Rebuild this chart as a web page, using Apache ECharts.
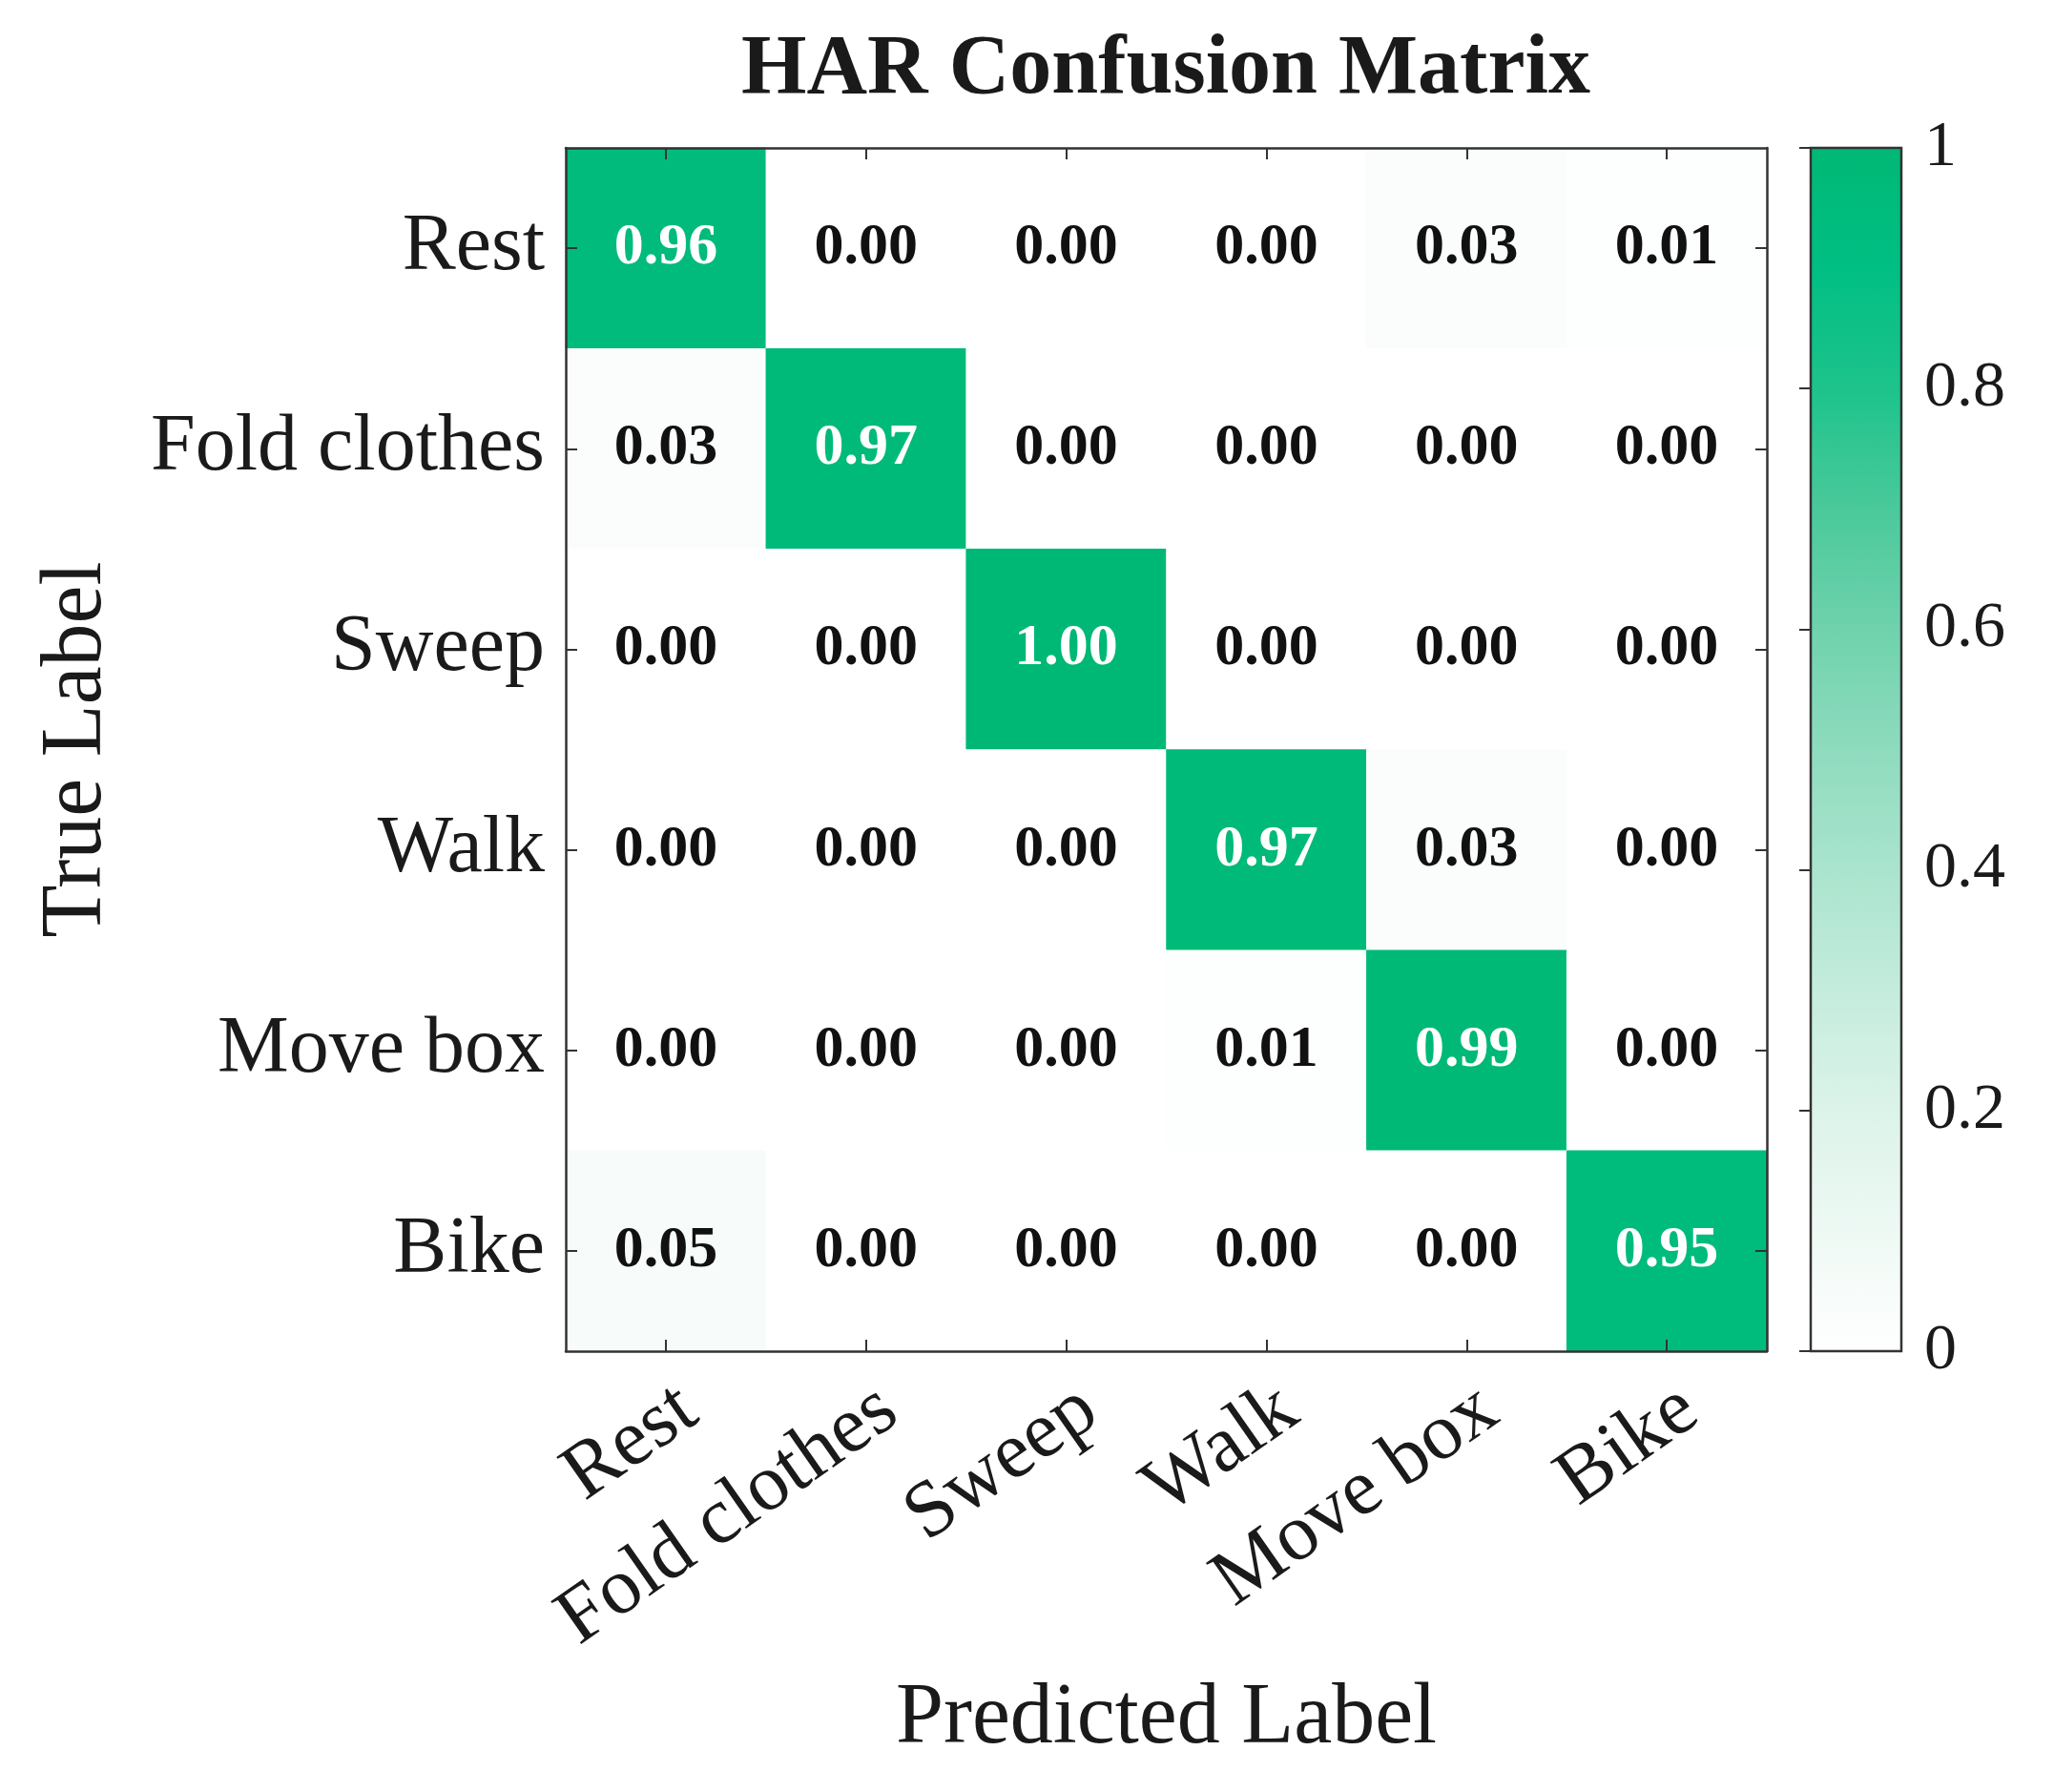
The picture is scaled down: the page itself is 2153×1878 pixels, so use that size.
<!DOCTYPE html>
<html>
<head>
<meta charset="utf-8">
<script src="https://cdn.jsdelivr.net/npm/echarts@6.0.0/dist/echarts.min.js"></script>
<style>
  html, body { margin: 0; padding: 0; background: #fff; }
  #main { width: 2153px; height: 1878px; }
</style>
</head>
<body>
<div id="main"></div>
<script>
// class names, same order on both axes
const classes = ['Rest', 'Fold clothes', 'Sweep', 'Walk', 'Move box', 'Bike'];

// one row per true label, columns = predicted label
const restRow  = [0.96, 0.00, 0.00, 0.00, 0.03, 0.01];
const foldRow  = [0.03, 0.97, 0.00, 0.00, 0.00, 0.00];
const sweepRow = [0.00, 0.00, 1.00, 0.00, 0.00, 0.00];
const walkRow  = [0.00, 0.00, 0.00, 0.97, 0.03, 0.00];
const moveRow  = [0.00, 0.00, 0.00, 0.01, 0.99, 0.00];
const bikeRow  = [0.05, 0.00, 0.00, 0.00, 0.00, 0.95];

const colorbarTicks = [0, 0.2, 0.4, 0.6, 0.8, 1];

const rows = [restRow, foldRow, sweepRow, walkRow, moveRow, bikeRow];
let cells = [];
rows.forEach(function (row, y) {
  row.forEach(function (v, x) {
    cells.push([x, y, v]);
  });
});

const FONT = 'Liberation Serif';
const INK = '#1a1a1a';

// plot box
const L = 593, T = 155, W = 1259, H = 1261;
// colour bar box
const CB_L = 1898, CB_W = 95;

let chart = echarts.init(document.getElementById('main'), null, { renderer: 'canvas' });

let catAxis = {
  type: 'category',
  data: classes,
  z: 5,
  axisLine: { show: true, lineStyle: { color: '#333', width: 2.5 } },
  axisTick: { show: true, inside: true, length: 12, alignWithLabel: true, lineStyle: { color: '#333', width: 2 } },
  splitLine: { show: false },
  splitArea: { show: false }
};

let option = {
  backgroundColor: '#fff',
  animation: false,
  textStyle: { fontFamily: FONT },
  title: {
    text: 'HAR Confusion Matrix',
    left: 1222,
    top: 30,
    padding: 0,
    textAlign: 'center',
    textStyle: { fontFamily: FONT, fontWeight: 'bold', fontSize: 88, color: INK }
  },
  grid: [
    { left: L, top: T, width: W, height: H, outerBoundsMode: 'none', containLabel: false },
    { left: CB_L, top: T, width: CB_W, height: H, show: true, z: 10,
      outerBoundsMode: 'none', containLabel: false,
      backgroundColor: 'transparent', borderColor: '#333', borderWidth: 2.5 }
  ],
  xAxis: [
    Object.assign({}, catAxis, {
      gridIndex: 0,
      position: 'bottom',
      name: 'Predicted Label',
      nameLocation: 'middle',
      nameGap: 341,
      nameTextStyle: { fontFamily: FONT, fontSize: 90, color: INK },
      axisLabel: {
        rotate: 35, margin: 71, padding: [0, -30, 0, 0],
        fontFamily: FONT, fontSize: 84, color: INK
      }
    }),
    Object.assign({}, catAxis, {
      gridIndex: 0,
      position: 'top',
      axisLabel: { show: false }
    }),
    { type: 'value', gridIndex: 1, min: 0, max: 1, show: false }
  ],
  yAxis: [
    Object.assign({}, catAxis, {
      gridIndex: 0,
      position: 'left',
      inverse: true,
      name: 'True Label',
      nameLocation: 'middle',
      nameGap: 467,
      nameTextStyle: { fontFamily: FONT, fontSize: 90, color: INK },
      axisLabel: { margin: 22, fontFamily: FONT, fontSize: 84, color: INK }
    }),
    Object.assign({}, catAxis, {
      gridIndex: 0,
      position: 'right',
      inverse: true,
      axisLabel: { show: false }
    }),
    {
      type: 'value',
      gridIndex: 1,
      position: 'right',
      min: 0,
      max: 1,
      interval: 0.2,
      z: 11,
      axisLine: { show: false },
      axisTick: { show: true, inside: true, length: 12, lineStyle: { color: '#333', width: 2 } },
      splitLine: { show: false },
      axisLabel: {
        margin: 24,
        fontFamily: FONT,
        fontSize: 68,
        color: INK,
        formatter: function (v) {
          if (colorbarTicks.indexOf(v) < 0) return '';
          return (v === 0 || v === 1) ? String(v) : v.toFixed(1);
        }
      }
    }
  ],
  visualMap: {
    type: 'continuous',
    seriesIndex: 0,
    min: 0,
    max: 1,
    calculable: false,
    hoverLink: false,
    left: CB_L,
    top: T,
    padding: 0,
    itemWidth: CB_W,
    itemHeight: H,
    z: 2,
    inRange: {
      color: ['#ffffff', '#eef9f4', '#dcf3e9', '#c4ecdc', '#aae4ce', '#8edbbe',
              '#6fd2ad', '#4ac99b', '#1dc38b', '#00bf83', '#00b875']
    }
  },
  series: [{
    type: 'heatmap',
    xAxisIndex: 0,
    yAxisIndex: 0,
    data: cells,
    label: {
      show: true,
      formatter: function (p) {
        let v = p.value[2];
        return (v > 0.5 ? '{w|' : '{k|') + v.toFixed(2) + '}';
      },
      rich: {
        w: { color: '#fff', fontFamily: FONT, fontWeight: 'bold', fontSize: 62 },
        k: { color: '#111', fontFamily: FONT, fontWeight: 'bold', fontSize: 62 }
      }
    },
    itemStyle: { borderWidth: 0 },
    emphasis: { disabled: true }
  }]
};

chart.setOption(option);
</script>
</body>
</html>
